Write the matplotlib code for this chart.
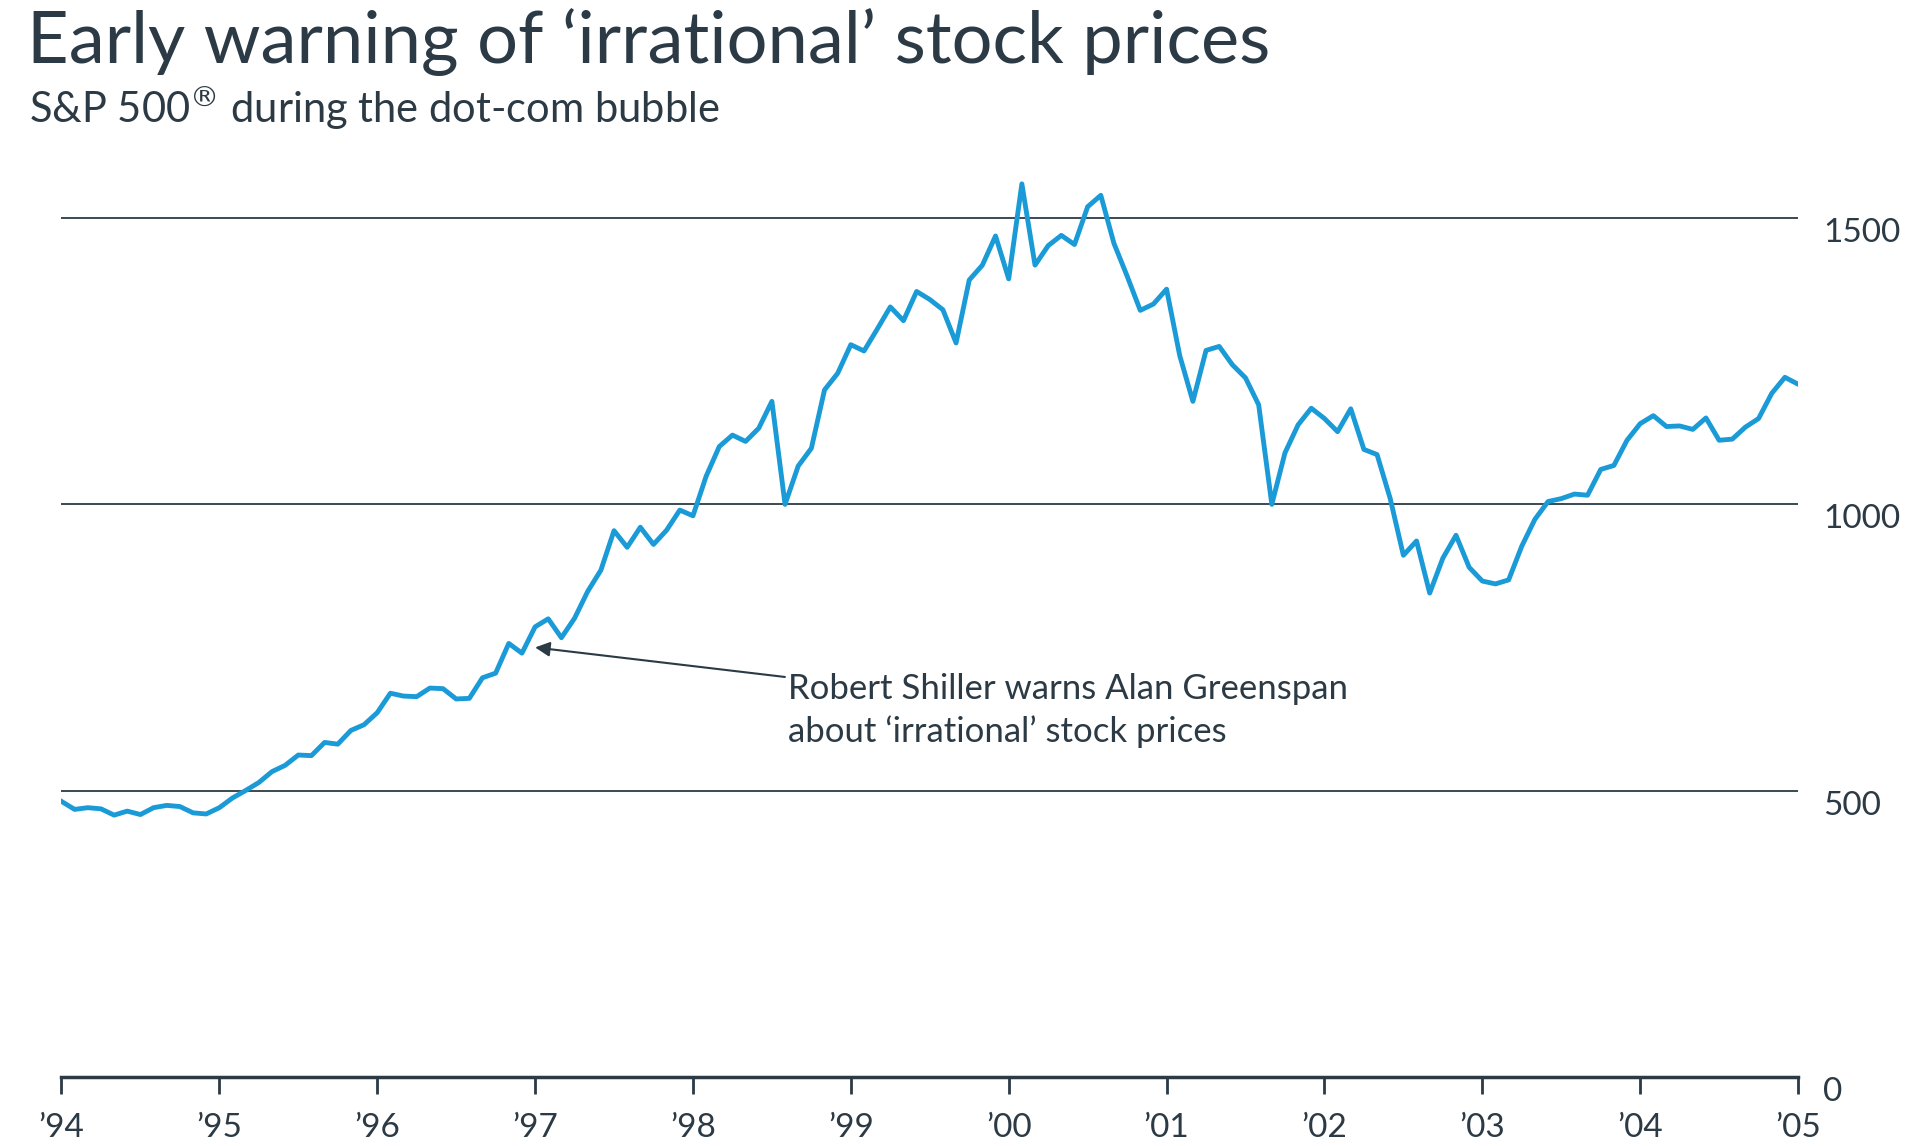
import matplotlib.pyplot as plt
import numpy as np

# monthly S&P 500 levels, Jan 1994 .. Jan 2005
y1994 = [481, 467, 470, 468, 457, 464, 458, 470, 474, 472, 461, 459]
y1995 = [470, 487, 500, 514, 533, 544, 562, 561, 584, 581, 605, 615]
y1996 = [636, 670, 665, 664, 679, 678, 660, 661, 697, 705, 757, 740]
y1997 = [786, 800, 767, 801, 848, 885, 954, 925, 960, 930, 955, 990]
y1998 = [980, 1049, 1101, 1121, 1110, 1133, 1180, 1000, 1067, 1098, 1200, 1229]
y1999 = [1279, 1268, 1306, 1345, 1321, 1372, 1358, 1340, 1282, 1392, 1418, 1469]
y2000 = [1394, 1560, 1418, 1452, 1470, 1454, 1520, 1540, 1456, 1399, 1339, 1350]
y2001 = [1376, 1260, 1180, 1269, 1276, 1244, 1221, 1174, 1000, 1090, 1139, 1168]
y2002 = [1150, 1127, 1167, 1096, 1087, 1010, 911, 936, 845, 906, 946, 890]
y2003 = [866, 861, 868, 927, 974, 1005, 1010, 1018, 1016, 1061, 1068, 1112]
y2004 = [1141, 1155, 1136, 1137, 1131, 1151, 1112, 1114, 1135, 1150, 1194, 1222]
y2005 = [1210]

values = y1994 + y1995 + y1996 + y1997 + y1998 + y1999 + y2000 + y2001 + y2002 + y2003 + y2004 + y2005
dates = 1994 + np.arange(len(values)) / 12.0

years = list(range(1994, 2006))
year_labels = ["\u2019" + str(y)[2:] for y in years]
gridlines = [500, 1000, 1500]
dark = '#2b3a44'

fig = plt.figure(figsize=(19.21, 11.46), dpi=100)
ax = fig.add_axes([0.032, 0.0605, 0.904, 0.824])

for g in gridlines:
    ax.axhline(g, color=dark, linewidth=1.3, zorder=1)

ax.plot(dates, values, color='#1a9bd7', linewidth=3.5, zorder=3)

ax.set_xlim(1994, 2005)
ax.set_ylim(0, 1650)
ax.set_xticks(years)
ax.set_xticklabels(year_labels, fontsize=24, color=dark, family='Lato')
ax.yaxis.tick_right()
ax.set_yticks([0, 500, 1000, 1500])
ax.set_yticklabels(['0', '500', '1000', '1500'], fontsize=24, color=dark,
                   family='Lato', va='top')
ax.tick_params(axis='y', length=0, pad=18)
ax.tick_params(axis='x', length=12, width=2, color=dark, pad=14, direction='out')
for s in ['top', 'right', 'left']:
    ax.spines[s].set_visible(False)
ax.spines['bottom'].set_linewidth(2.5)
ax.spines['bottom'].set_color(dark)

ax.annotate("Robert Shiller warns Alan Greenspan\nabout \u2018irrational\u2019 stock prices",
            xy=(1997.0, 750), xytext=(1998.6, 640), fontsize=25, color=dark,
            family='Lato', va='center', linespacing=1.4,
            arrowprops=dict(arrowstyle='-|>', color=dark, lw=1.5,
                            mutation_scale=22, shrinkA=0, shrinkB=0))

fig.text(0.014, 0.963, "Early warning of \u2018irrational\u2019 stock prices",
         fontsize=52, color=dark, family='Lato', va='center')
fig.text(0.015, 0.906, "S&P 500$^{\u00ae}$ during the dot-com bubble",
         fontsize=30, color=dark, family='Lato', va='center')

fig.savefig('out.png', dpi=100)
